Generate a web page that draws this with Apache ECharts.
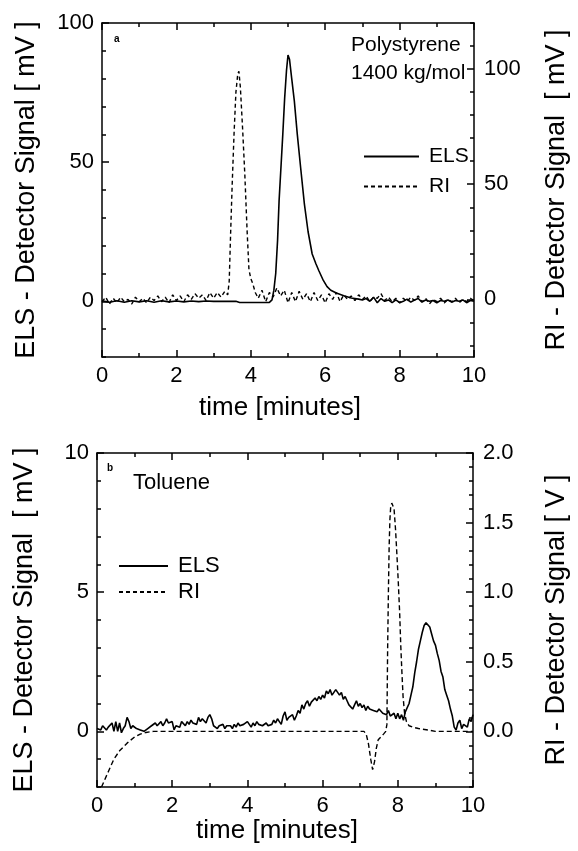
<!DOCTYPE html>
<html>
<head>
<meta charset="utf-8">
<script src="https://cdn.jsdelivr.net/npm/echarts@6/dist/echarts.min.js"></script>
<style>
  html, body { margin: 0; padding: 0; background: #fff; }
  #chart { width: 578px; height: 851px; }
</style>
</head>
<body>
<div id="chart"></div>
<script>
// ---- panel a : Polystyrene 1400 kg/mol ----
// [time (min), signal]
const elsTop = [
  [0,0.2],[0.2,-0.3],[0.4,0.2],[0.6,-0.3],[0.8,0.2],[1.0,-0.2],[1.2,0.2],[1.4,-0.3],[1.6,0.2],[1.8,-0.2],
  [2.0,0.1],[2.2,-0.2],[2.4,0.1],[2.6,-0.1],[2.8,0.1],[3.0,0],[3.6,0],[3.7,-0.4],[4.5,-0.4],
  [4.57,0.5],[4.62,4],[4.67,10],[4.72,22],[4.76,36],[4.81,48],[4.86,60],[4.91,73],[4.96,83],[5.0,88.5],
  [5.04,87],[5.1,80],[5.17,72],[5.25,60],[5.34,48],[5.44,35],[5.54,25],[5.65,17],[5.75,13.5],[5.83,11],
  [5.95,7.5],[6.05,5.3],[6.15,4],[6.3,3],[6.5,2],[6.7,1.2],[6.9,0.8],[7.0,0.5],[7.1,1],[7.2,0],[7.3,1.5],
  [7.4,-0.5],[7.5,1],[7.6,0],[7.7,0.5],[7.8,-0.5],[7.9,0.5],[8.0,-0.5],[8.1,0],[8.2,0.8],[8.3,-0.3],
  [8.4,0.5],[8.5,1],[8.6,-0.3],[8.7,0.5],[8.8,0],[8.9,0.3],[9.0,-0.5],[9.1,0.3],[9.2,0],[9.3,0.5],
  [9.4,-0.3],[9.5,0.3],[9.6,0],[9.7,0.5],[9.8,-0.5],[9.9,0.3],[10,0]
];
const riTop = [
  [0.0,-1],[0.1,1],[0.2,-2],[0.3,0.5],[0.4,-1.5],[0.5,1],[0.6,-1],[0.7,0],[0.8,-2],[0.9,1],
  [1.0,-1],[1.1,0.5],[1.2,-1.5],[1.3,1],[1.4,-0.5],[1.5,1.5],[1.6,-1],[1.7,1],[1.8,-1.5],[1.9,2],
  [2.0,-0.5],[2.1,1.5],[2.2,-1],[2.3,2],[2.4,0],[2.5,2.5],[2.6,0.5],[2.7,2],[2.8,-0.5],[2.9,3],
  [3.0,0.5],[3.1,3],[3.2,1],[3.3,3.5],[3.38,2],[3.42,8],[3.46,30],[3.50,50],[3.55,72],[3.60,90],
  [3.65,98],[3.68,99],[3.72,92],[3.78,74],[3.84,54],[3.90,30],[3.95,13],[4.0,9],[4.05,7],[4.12,3],
  [4.2,0.5],[4.3,4],[4.4,-1],[4.5,3],[4.6,1],[4.7,5],[4.8,1.5],[4.9,4],[5.0,-1.5],[5.1,3],
  [5.2,-1],[5.3,3.5],[5.4,0],[5.5,2.5],[5.6,-1],[5.7,3],[5.8,-0.5],[5.9,2],[6.0,-1.5],[6.1,2.5],
  [6.2,0],[6.3,3],[6.4,-1],[6.5,2],[6.6,0],[6.7,1.5],[6.8,-0.5],[6.9,2],[7.0,0],[7.1,1.5],
  [7.2,-1],[7.3,1],[7.4,0.5],[7.5,2.5],[7.6,-0.5],[7.7,1],[7.8,-1],[7.9,0.5],[8.0,-1.5],[8.1,0.5],
  [8.2,-1],[8.3,1],[8.4,-0.5],[8.5,1.5],[8.6,-1],[8.7,0.5],[8.8,-2],[8.9,0],[9.0,-1],[9.1,0.5],
  [9.2,-1.5],[9.3,0],[9.4,-1],[9.5,0.5],[9.6,-1.5],[9.7,0],[9.8,-1],[9.9,0.5],[10.0,-0.5]
];

// ---- panel b : Toluene ----
// ELS sampled every 0.05 min from 0 to 10
const elsBotStep = 0.05;
const elsBotVal = [
  0.1,0.15,0.05,0.2,0.25,0.05,0.15,0.1,0.3,0.0,0.35,0.0,0.3,-0.05,0.1,0.2,0.5,0.35,0.1,0.2,
  0.25,0.1,0.15,0.05,0.1,0.0,0.05,0.1,0.05,0.2,0.15,0.3,0.2,0.25,0.35,0.2,0.3,0.45,0.3,0.25,
  0.35,0.05,0.2,0.25,0.15,0.35,0.3,0.2,0.35,0.25,0.4,0.3,0.35,0.25,0.5,0.35,0.45,0.4,0.3,0.5,
  0.6,0.45,0.2,0.25,0.1,0.2,0.15,0.25,0.1,0.2,0.15,0.2,0.1,0.25,0.15,0.3,0.2,0.15,0.25,0.2,
  0.35,0.25,0.15,0.3,0.2,0.35,0.25,0.3,0.2,0.15,0.3,0.2,0.15,0.25,0.4,0.3,0.45,0.35,0.25,0.55,
  0.7,0.4,0.5,0.45,0.6,0.4,0.55,0.75,0.65,0.95,0.8,1.0,1.1,0.9,1.05,1.0,1.2,1.1,1.25,1.15,
  1.3,1.2,1.45,1.35,1.5,1.3,1.25,1.5,1.45,1.3,1.4,1.15,1.25,1.1,0.95,1.0,0.8,0.95,1.1,0.9,
  1.0,0.85,0.95,0.75,0.9,0.8,0.85,0.75,0.8,0.7,0.8,0.75,0.65,0.7,0.6,0.75,0.55,0.5,0.65,0.45,
  0.65,0.45,0.6,0.4,0.7,0.75,1.0,1.3,1.6,2.1,2.5,2.95,3.25,3.55,3.8,3.9,3.88,3.75,3.5,3.25,
  3.1,2.8,2.55,2.15,1.95,1.5,1.3,1.1,0.8,0.55,0.15,0.05,0.3,0.4,0.1,0.25,0.3,0.15,0.45,0.35,0.6
];
const riBot = [
  [0.12,-0.4],[0.3,-0.29],[0.45,-0.2],[0.6,-0.14],[0.8,-0.085],[1.0,-0.04],[1.15,-0.02],[1.3,-0.008],
  [1.5,0],[7.1,0],[7.16,-0.02],[7.22,-0.09],[7.28,-0.2],[7.33,-0.275],[7.38,-0.22],[7.43,-0.12],
  [7.48,-0.06],[7.55,-0.04],[7.62,-0.02],[7.68,0],[7.71,0.05],[7.73,0.6],[7.75,1.0],[7.77,1.33],
  [7.79,1.52],[7.81,1.61],[7.84,1.64],[7.87,1.63],[7.9,1.6],[7.94,1.45],[7.98,1.25],[8.01,1.09],
  [8.05,0.85],[8.08,0.61],[8.11,0.42],[8.14,0.25],[8.18,0.13],[8.23,0.07],[8.3,0.04],[8.4,0.03],
  [8.55,0.02],[8.8,0.01],[9.0,0],[10,0]
];

// tick positions
const elsTopMajor = [0, 50, 100];
const elsTopMinor = [-20,-10,0,10,20,30,40,50,60,70,80,90,100];
const riTopMajor = [0, 50, 100];
const riTopMinor = [-20,-10,0,10,20,30,40,50,60,70,80,90,100,110,120];
const elsBotMajor = [0, 5, 10];
const elsBotMinor = [-2,-1,0,1,2,3,4,5,6,7,8,9,10];
const riBotMajor = [0, 0.5, 1.0, 1.5, 2.0];
const riBotMinor = [-0.4,-0.3,-0.2,-0.1,0,0.1,0.2,0.3,0.4,0.5,0.6,0.7,0.8,0.9,1.0,1.1,1.2,1.3,1.4,1.5,1.6,1.7,1.8,1.9,2.0];

const font = 'Liberation Sans';
const black = '#000';

function xAx(gridIndex, position, withLabels, nameGap) {
  return {
    type: 'value', gridIndex: gridIndex, position: position,
    min: 0, max: 10, interval: 2,
    name: withLabels ? 'time [minutes]' : '',
    nameLocation: 'middle', nameGap: nameGap,
    nameTextStyle: { fontSize: 26, fontFamily: font, color: black, padding: [0, 16, 0, 0] },
    axisLine: { show: true, onZero: false, lineStyle: { color: black, width: 1.5 } },
    axisTick: { show: true, inside: true, length: 7, lineStyle: { color: black, width: 1.5 } },
    minorTick: { show: true, splitNumber: 2, length: 4, lineStyle: { color: black, width: 1.5 } },
    axisLabel: { show: withLabels, fontSize: 22, fontFamily: font, color: black, margin: 8 },
    splitLine: { show: false }
  };
}

function yMajor(gridIndex, position, min, max, ticks, name, nameGap, fmt) {
  return {
    type: 'value', gridIndex: gridIndex, position: position, min: min, max: max,
    name: name, nameLocation: 'middle', nameGap: nameGap, nameRotate: 90,
    nameTextStyle: { fontSize: 27, fontFamily: font, color: black },
    axisLine: { show: true, onZero: false, lineStyle: { color: black, width: 1.5 } },
    axisTick: { show: true, inside: true, length: 7, customValues: ticks, lineStyle: { color: black, width: 1.5 } },
    axisLabel: { customValues: ticks, fontSize: 22, fontFamily: font, color: black,
                 margin: position === 'left' ? 8 : 10, formatter: fmt },
    splitLine: { show: false }
  };
}

function yMinor(gridIndex, position, min, max, ticks) {
  return {
    type: 'value', gridIndex: gridIndex, position: position, min: min, max: max,
    axisLine: { show: false, onZero: false },
    axisTick: { show: true, inside: true, length: 4, customValues: ticks, lineStyle: { color: black, width: 1.5 } },
    axisLabel: { show: false },
    splitLine: { show: false }
  };
}

const intFmt = function (v) { return String(v); };
const oneDec = function (v) { return v.toFixed(1); };

let chart = echarts.init(document.getElementById('chart'), null, { renderer: 'canvas' });

let option = {
  animation: false,
  backgroundColor: '#fff',
  textStyle: { fontFamily: font },
  grid: [
    { left: 102, top: 23, width: 381, height: 334 },
    { left: 97, top: 453, width: 381, height: 334 }
  ],
  xAxis: [
    xAx(0, 'bottom', true, 38),
    xAx(0, 'top', false, 0),
    xAx(1, 'bottom', true, 27),
    xAx(1, 'top', false, 0)
  ],
  yAxis: [
    yMajor(0, 'left', -20, 100, elsTopMajor, 'ELS - Detector Signal [ mV ]', 62, intFmt),
    yMinor(0, 'left', -20, 100, elsTopMinor),
    yMajor(0, 'right', -25, 120, riTopMajor, 'RI - Detector Signal  [ mV ]', 69, intFmt),
    yMinor(0, 'right', -25, 120, riTopMinor),
    yMajor(1, 'left', -2, 10, elsBotMajor, 'ELS - Detector Signal  [ mV ]', 59, intFmt),
    yMinor(1, 'left', -2, 10, elsBotMinor),
    yMajor(1, 'right', -0.4, 2.0, riBotMajor, 'RI - Detector Signal [ V ]', 70, oneDec),
    yMinor(1, 'right', -0.4, 2.0, riBotMinor)
  ],
  legend: [
    {
      left: 363, top: 146, orient: 'vertical', padding: 0,
      itemWidth: 55, itemHeight: 14, itemGap: 9, selectedMode: false,
      itemStyle: { opacity: 0 },
      data: ['ELS', 'RI'],
      textStyle: { fontSize: 21, fontFamily: font, color: black, padding: [0, 0, 0, 5] }
    },
    {
      left: 118, top: 555, orient: 'vertical', padding: 0,
      itemWidth: 49, itemHeight: 14, itemGap: 4, selectedMode: false,
      itemStyle: { opacity: 0 },
      data: ['ELS', 'RI'],
      textStyle: { fontSize: 22, fontFamily: font, color: black, padding: [0, 0, 0, 5] }
    }
  ],
  graphic: [
    { type: 'text', x: 114, y: 39, style: { text: 'a', font: 'bold 10px ' + font, fill: black, verticalAlign: 'middle', textVerticalAlign: 'middle' } },
    { type: 'text', x: 351, y: 45, style: { text: 'Polystyrene', font: '21px ' + font, fill: black, verticalAlign: 'middle', textVerticalAlign: 'middle' } },
    { type: 'text', x: 351, y: 73, style: { text: '1400 kg/mol', font: '21px ' + font, fill: black, verticalAlign: 'middle', textVerticalAlign: 'middle' } },
    { type: 'text', x: 107, y: 468, style: { text: 'b', font: 'bold 10px ' + font, fill: black, verticalAlign: 'middle', textVerticalAlign: 'middle' } },
    { type: 'text', x: 133, y: 483, style: { text: 'Toluene', font: '22px ' + font, fill: black, verticalAlign: 'middle', textVerticalAlign: 'middle' } }
  ],
  series: [
    {
      name: 'ELS', type: 'line', xAxisIndex: 0, yAxisIndex: 0, data: elsTop,
      symbol: 'none', itemStyle: { color: black }, lineStyle: { color: black, width: 1.6 }
    },
    {
      name: 'RI', type: 'line', xAxisIndex: 0, yAxisIndex: 2, data: riTop,
      symbol: 'none', itemStyle: { color: black }, lineStyle: { color: black, width: 1.4, type: [4, 3] }
    },
    {
      name: 'ELS', type: 'line', xAxisIndex: 2, yAxisIndex: 4,
      data: elsBotVal.map(function (v, i) { return [i * elsBotStep, v]; }),
      symbol: 'none', itemStyle: { color: black }, lineStyle: { color: black, width: 1.6 }
    },
    {
      name: 'RI', type: 'line', xAxisIndex: 2, yAxisIndex: 6, data: riBot,
      symbol: 'none', itemStyle: { color: black }, lineStyle: { color: black, width: 1.4, type: [5, 3] }
    }
  ]
};

chart.setOption(option);
</script>
</body>
</html>
